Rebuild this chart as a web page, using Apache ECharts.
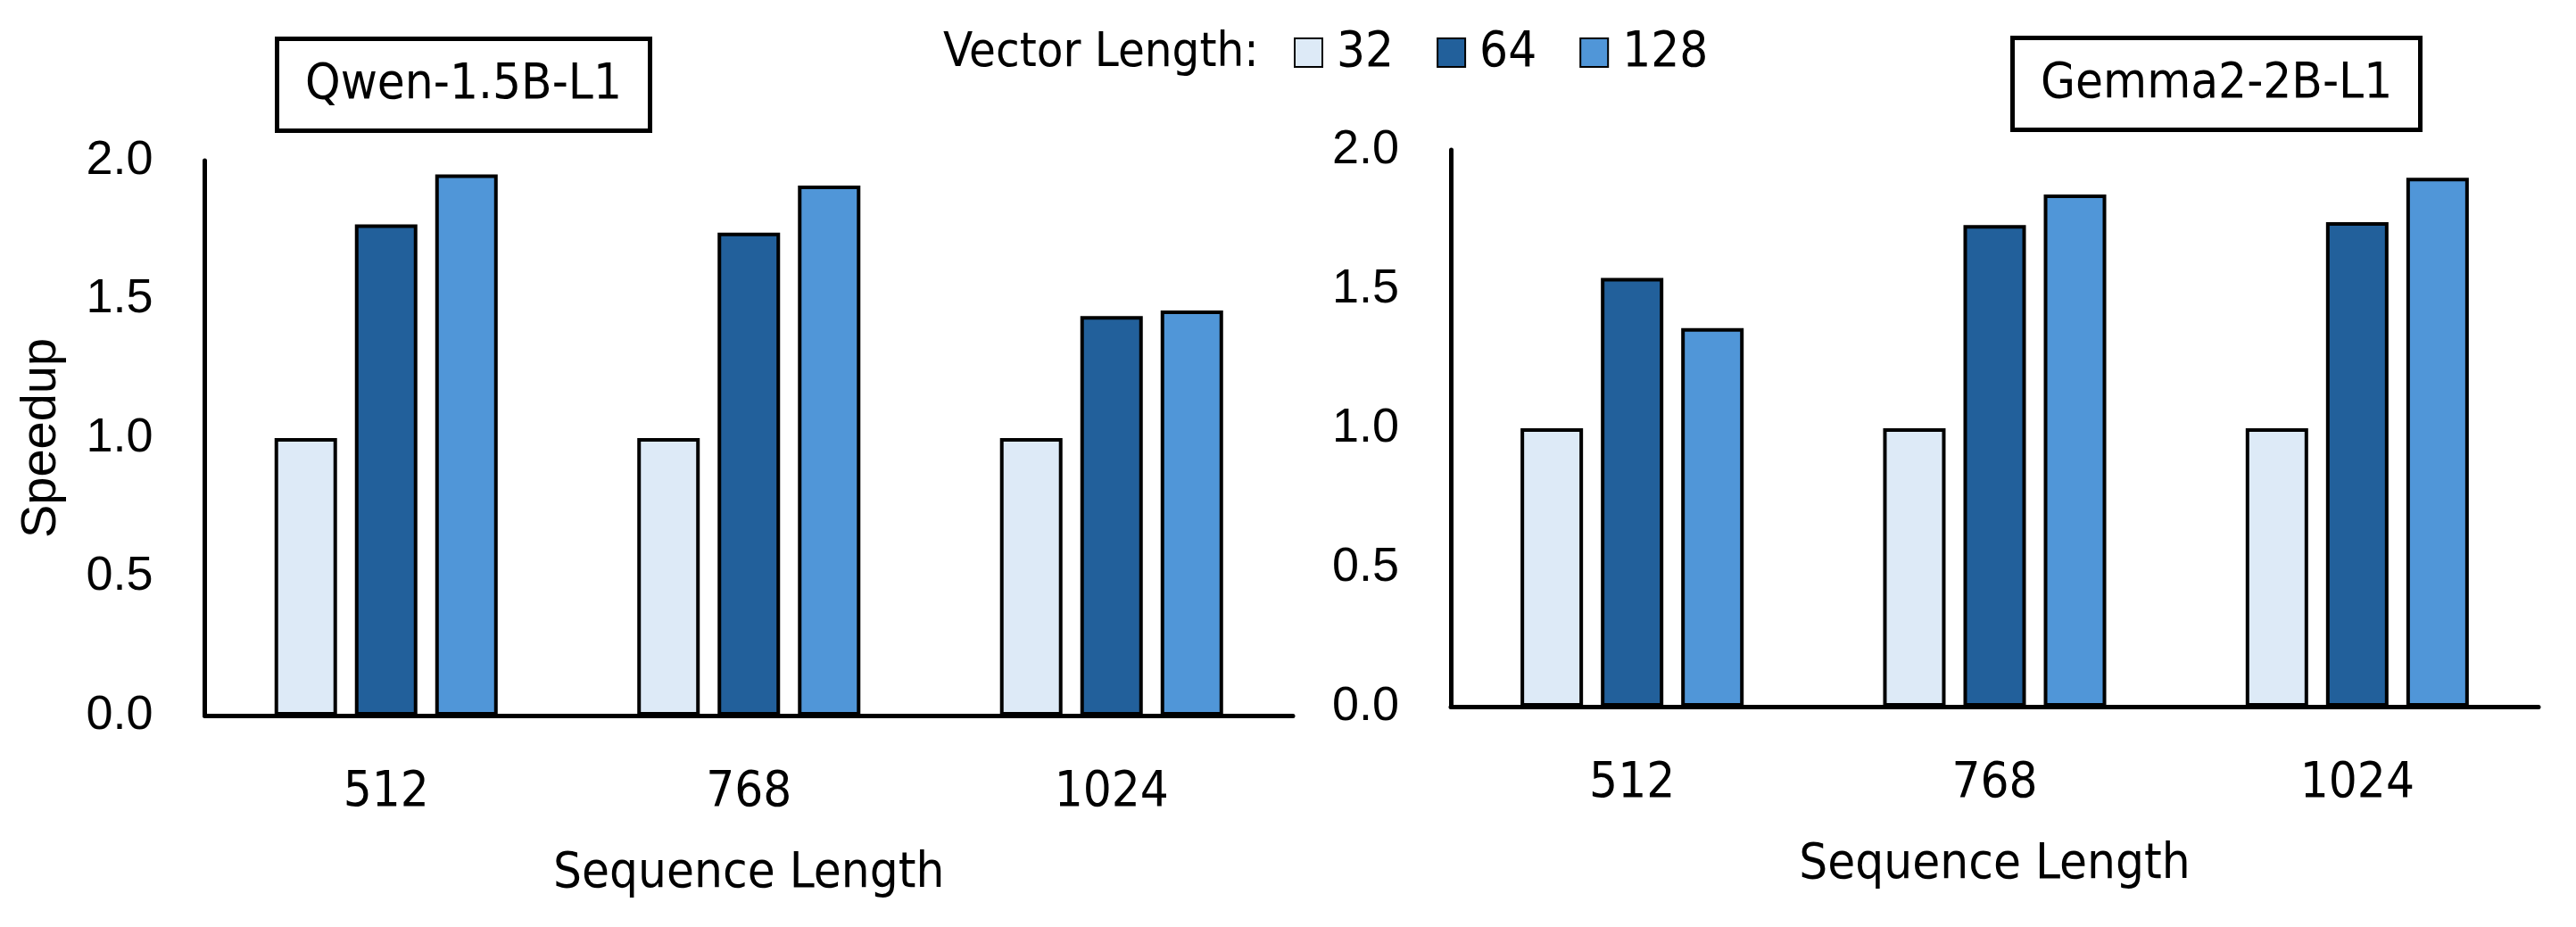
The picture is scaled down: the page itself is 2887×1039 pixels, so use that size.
<!DOCTYPE html>
<html>
<head>
<meta charset="utf-8">
<script src="https://cdn.jsdelivr.net/npm/echarts@6/dist/echarts.min.js"></script>
<style>
  html, body { margin: 0; padding: 0; background: #fff; }
  #chart { width: 2887px; height: 1039px; }
</style>
</head>
<body>
<div id="chart"></div>
<script>
const NARROW = "'Liberation Sans Narrow', 'DejaVu Sans Condensed', sans-serif"
const SANS = "'Liberation Sans', Arial, sans-serif"

const seqLengths = ['512', '768', '1024']
const vectorLengths = ['32', '64', '128']
const yTicks = [0, 0.5, 1.0, 1.5, 2.0]

// speedup per vector length, one entry per sequence length
const qwen32 = [1.0, 1.0, 1.0]
const qwen64 = [1.77, 1.74, 1.44]
const qwen128 = [1.95, 1.91, 1.46]

const gemma32 = [1.0, 1.0, 1.0]
const gemma64 = [1.54, 1.73, 1.74]
const gemma128 = [1.36, 1.84, 1.90]

const colors = ['#DDEAF7', '#22609B', '#5096D8']

const chart = echarts.init(document.getElementById('chart'))

const makeX = (gridIndex) => ({
  type: 'category',
  gridIndex,
  data: seqLengths,
  name: 'Sequence Length',
  nameLocation: 'middle',
  nameGap: 149,
  nameTextStyle: { fontFamily: NARROW, fontSize: 56, color: '#000' },
  axisLine: { show: true, lineStyle: { color: '#000', width: 5 } },
  axisTick: { show: false },
  axisLabel: { fontFamily: NARROW, fontSize: 56, color: '#000', margin: 58 },
})

const makeY = (gridIndex, name) => ({
  type: 'value',
  gridIndex,
  min: 0,
  max: 2,
  interval: 0.5,
  name,
  nameLocation: 'middle',
  nameGap: 155,
  nameTextStyle: { fontFamily: SANS, fontSize: 56, color: '#000' },
  axisLine: { show: true, lineStyle: { color: '#000', width: 5 } },
  axisTick: { show: false },
  splitLine: { show: false },
  axisLabel: {
    fontFamily: SANS,
    fontSize: 54,
    color: '#000',
    margin: 58,
    formatter: (v) => yTicks.includes(v) ? v.toFixed(1) : '',
  },
})

const makeBar = (name, data, idx, axisIndex) => ({
  name,
  type: 'bar',
  xAxisIndex: axisIndex,
  yAxisIndex: axisIndex,
  data,
  barWidth: 70,
  barGap: '28.6%',
  itemStyle: { color: colors[idx], borderColor: '#000', borderWidth: 4 },
  emphasis: { disabled: true },
})

const boxTitle = (text, left, top) => ({
  text,
  left,
  top,
  padding: [24, 32],
  borderColor: '#000',
  borderWidth: 5,
  textStyle: { fontFamily: NARROW, fontSize: 56, fontWeight: 'normal', color: '#000', lineHeight: 56 },
})

chart.setOption({
  animation: false,
  backgroundColor: '#fff',
  title: [
    boxTitle('Qwen-1.5B-L1', 310, 43),
    boxTitle('Gemma2-2B-L1', 2255, 42),
    {
      text: 'Vector Length:',
      left: 1057,
      top: 32,
      padding: 0,
      textStyle: { fontFamily: NARROW, fontSize: 54, fontWeight: 'normal', color: '#000', lineHeight: 56 },
    },
  ],
  legend: {
    left: 1450,
    top: 31,
    padding: 0,
    itemWidth: 31,
    itemHeight: 32,
    itemGap: 48,
    icon: 'rect',
    selectedMode: false,
    data: vectorLengths,
    itemStyle: { borderColor: '#000', borderWidth: 2 },
    textStyle: { fontFamily: NARROW, fontSize: 56, lineHeight: 56, color: '#000', padding: [0, 0, 0, 11] },
  },
  grid: [
    { left: 229.5, top: 180, width: 1219.5, height: 622, containLabel: false },
    { left: 1626, top: 168, width: 1219, height: 624, containLabel: false },
  ],
  xAxis: [makeX(0), makeX(1)],
  yAxis: [makeY(0, 'Speedup'), makeY(1, '')],
  series: [
    makeBar('32', qwen32, 0, 0),
    makeBar('64', qwen64, 1, 0),
    makeBar('128', qwen128, 2, 0),
    makeBar('32', gemma32, 0, 1),
    makeBar('64', gemma64, 1, 1),
    makeBar('128', gemma128, 2, 1),
  ],
})
</script>
</body>
</html>
